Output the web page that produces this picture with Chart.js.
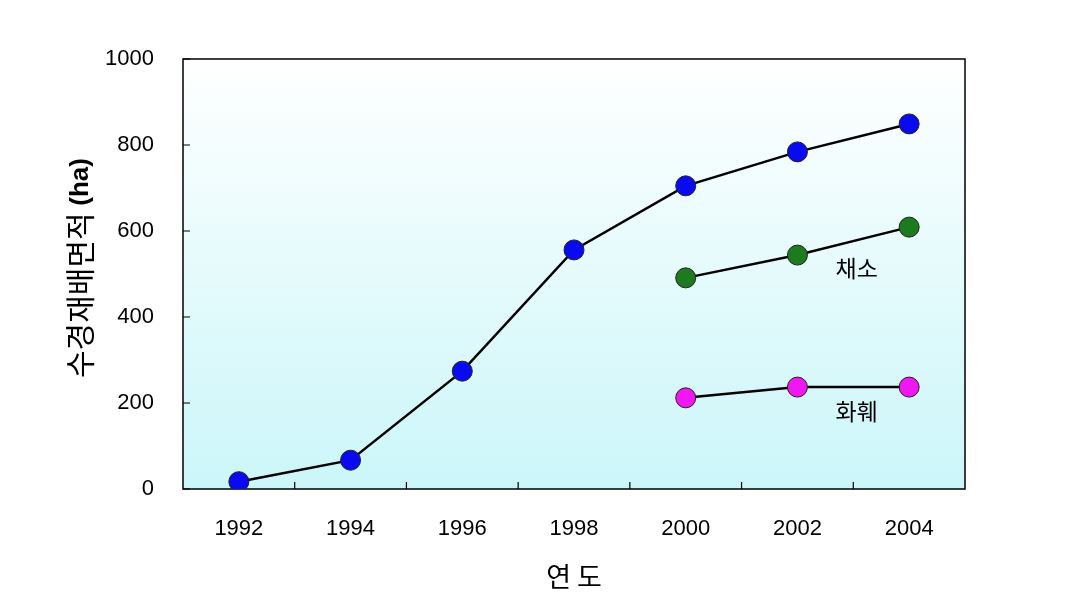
<!DOCTYPE html>
<html>
<head>
<meta charset="utf-8">
<script src="https://cdn.jsdelivr.net/npm/chart.js@4/dist/chart.umd.min.js"></script>
<style>
  html, body { margin: 0; padding: 0; background: #fff; }
  #wrap { width: 1090px; height: 605px; }
</style>
</head>
<body>
<div id="wrap"><canvas id="areaChart" width="1090" height="605"></canvas></div>
<script>
// 수경재배면적 연도별 추이
const years = ['1992', '1994', '1996', '1998', '2000', '2002', '2004'];
const totalArea = [17, 67, 274, 556, 705, 784, 849];
const vegArea = [null, null, null, null, 491, 544, 609];
const flowerArea = [null, null, null, null, 212, 237, 237];
const yTicks = [0, 200, 400, 600, 800, 1000];

const KR_FONT = '"Noto Sans CJK KR", "Noto Sans", sans-serif';
const NUM_FONT = '"Liberation Sans", Arial, sans-serif';

// 배경 그라데이션 + 테두리 + 안쪽 눈금 + 라벨
const frame = {
  id: 'frame',
  beforeDatasetsDraw(chart) {
    const { ctx, chartArea: a, scales } = chart;
    ctx.save();
    const g = ctx.createLinearGradient(0, a.top, 0, a.bottom);
    g.addColorStop(0, '#ffffff');
    g.addColorStop(1, '#cbf6f9');
    ctx.fillStyle = g;
    ctx.fillRect(a.left, a.top, a.right - a.left, a.bottom - a.top);

    ctx.strokeStyle = '#000';
    ctx.lineWidth = 1.5;
    ctx.strokeRect(a.left, a.top, a.right - a.left, a.bottom - a.top);

    ctx.lineWidth = 1.2;
    ctx.beginPath();
    yTicks.forEach(v => {
      const y = scales.y.getPixelForValue(v);
      ctx.moveTo(a.left, y);
      ctx.lineTo(a.left + 7, y);
    });
    for (let i = 0; i < years.length - 1; i++) {
      const x = (scales.x.getPixelForValue(i) + scales.x.getPixelForValue(i + 1)) / 2;
      ctx.moveTo(x, a.bottom);
      ctx.lineTo(x, a.bottom - 7);
    }
    ctx.stroke();

    // y축 제목 (한글 보통 + (ha) 굵게)
    const part1 = '수경재배면적 ';
    const part2 = '(ha)';
    const f1 = '30px ' + KR_FONT;
    const f2 = 'bold 26px ' + NUM_FONT;
    ctx.font = f1;
    const w1 = ctx.measureText(part1).width;
    ctx.font = f2;
    const w2 = ctx.measureText(part2).width;
    ctx.translate(80, (a.top + a.bottom) / 2 - 6);
    ctx.rotate(-Math.PI / 2);
    ctx.fillStyle = '#000';
    ctx.textBaseline = 'middle';
    ctx.textAlign = 'left';
    const start = -(w1 + w2) / 2;
    ctx.font = f1;
    ctx.fillText(part1, start, 0);
    ctx.font = f2;
    ctx.fillText(part2, start + w1, 1);
    ctx.restore();
  },
  afterDatasetsDraw(chart) {
    const { ctx, scales } = chart;
    ctx.save();
    ctx.fillStyle = '#000';
    ctx.font = '23px ' + KR_FONT;
    ctx.textAlign = 'center';
    ctx.textBaseline = 'middle';
    ctx.fillText('채소', scales.x.getPixelForValue(5.53), scales.y.getPixelForValue(514));
    ctx.fillText('화훼', scales.x.getPixelForValue(5.53), scales.y.getPixelForValue(181));
    ctx.restore();
  }
};

function seriesStyle(color) {
  return {
    borderColor: '#000',
    borderWidth: 2.5,
    pointRadius: 10,
    pointHoverRadius: 10,
    pointBackgroundColor: color,
    pointBorderColor: '#222',
    pointBorderWidth: 1,
    tension: 0,
    fill: false,
    spanGaps: false
  };
}

new Chart(document.getElementById('areaChart'), {
  type: 'line',
  data: {
    labels: years,
    datasets: [
      Object.assign({ label: '전체', data: totalArea }, seriesStyle('#0a0af0')),
      Object.assign({ label: '채소', data: vegArea }, seriesStyle('#1e7a1e')),
      Object.assign({ label: '화훼', data: flowerArea }, seriesStyle('#f018f0'))
    ]
  },
  options: {
    responsive: false,
    animation: false,
    layout: { padding: { left: 0, right: 125, top: 59, bottom: 0 } },
    plugins: {
      legend: { display: false },
      tooltip: { enabled: false }
    },
    scales: {
      x: {
        offset: true,
        afterFit(scale) { scale.height = 116; },
        grid: { display: false, offset: true },
        border: { display: false },
        ticks: { color: '#000', font: { family: NUM_FONT, size: 22 }, padding: 19 },
        title: {
          display: true,
          text: '연 도',
          color: '#000',
          font: { family: KR_FONT, size: 27 },
          padding: { top: 16, bottom: 12 }
        }
      },
      y: {
        min: 0,
        max: 1000,
        afterFit(scale) { scale.width = 183; },
        afterBuildTicks(scale) { scale.ticks = yTicks.map(v => ({ value: v })); },
        grid: { display: false },
        border: { display: false },
        ticks: {
          color: '#000',
          font: { family: NUM_FONT, size: 22 },
          padding: 21,
          callback: v => String(v)
        }
      }
    }
  },
  plugins: [frame]
});
</script>
</body>
</html>
